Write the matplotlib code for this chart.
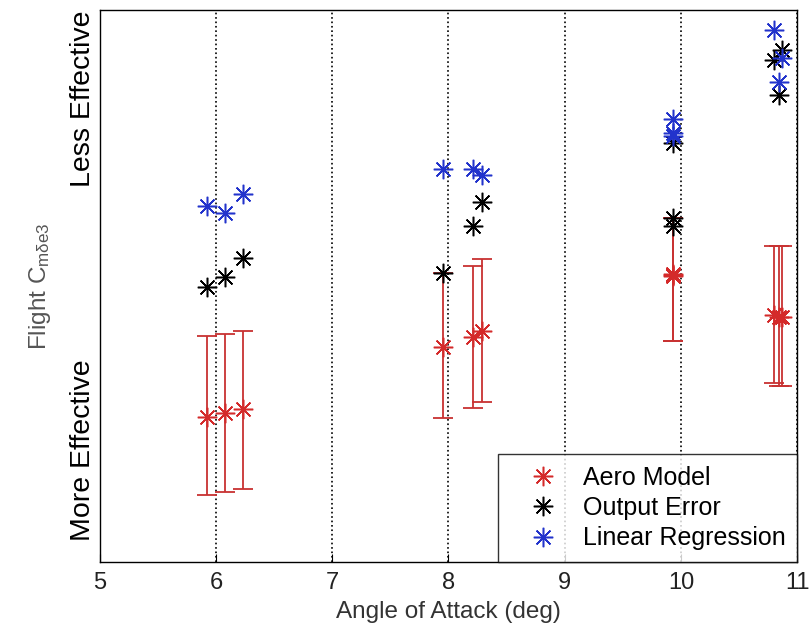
import numpy as np
import matplotlib
matplotlib.use("Agg")
import matplotlib.pyplot as plt

plt.rcParams['font.family'] = ['Liberation Sans', 'DejaVu Sans']
plt.rcParams['mathtext.fontset'] = 'custom'
plt.rcParams['mathtext.rm'] = 'Liberation Sans'
plt.rcParams['mathtext.it'] = 'Liberation Sans'

# angle of attack for each run (3 runs per nominal AoA)
aoa = [5.92, 6.08, 6.23, 7.95, 8.21, 8.29, 9.93, 9.93, 9.93, 10.80, 10.87, 10.84]

# flight Cm_de3 (arbitrary units, axis has no numeric labels)
aero_model = [2.63, 2.70, 2.77, 3.89, 4.08, 4.18, 5.20, 5.19, 5.21, 4.47, 4.44, 4.44]
aero_upper = [4.09, 4.13, 4.18, 5.24, 5.36, 5.49, 6.23, 6.23, 6.23, 5.72, 5.72, 5.72]
aero_lower = [1.21, 1.27, 1.32, 2.61, 2.79, 2.90, 4.00, 4.00, 4.00, 3.24, 3.19, 3.19]
output_error = [4.98, 5.16, 5.51, 5.24, 6.09, 6.52, 7.59, 6.23, 6.09, 9.09, 9.28, 8.46]
linear_regression = [6.45, 6.32, 6.67, 7.12, 7.12, 7.01, 8.03, 7.77, 7.72, 9.64, 9.13, 8.70]

xticks = [5, 6, 7, 8, 9, 10, 11]
ytick_pos = [2.03, 8.40]
ytick_labels = ['More Effective', 'Less Effective']

red = '#d42a2a'
blue = '#2233cc'
star = (8, 2, 0)

fig = plt.figure(figsize=(8.11, 6.29), dpi=100)
ax = fig.add_axes([0.123, 0.1065, 0.860, 0.8775])

am = np.array(aero_model)
yerr = [am - np.array(aero_lower), np.array(aero_upper) - am]
ax.errorbar(aoa, aero_model, yerr=yerr, fmt='none', ecolor='#c83232',
            elinewidth=1.3, capsize=7, capthick=1.3, zorder=2)
ax.plot(aoa, aero_model, linestyle='none', marker=star, markersize=14,
        markeredgewidth=1.1, color=red, label='Aero Model', zorder=3)
ax.plot(aoa, output_error, linestyle='none', marker=star, markersize=14,
        markeredgewidth=1.1, color='black', label='Output Error', zorder=3)
ax.plot(aoa, linear_regression, linestyle='none', marker=star, markersize=14,
        markeredgewidth=1.1, color=blue, label='Linear Regression', zorder=3)

ax.set_xlim(5, 11)
ax.set_ylim(0, 10)
ax.set_xticks(xticks)
ax.tick_params(axis='x', direction='in', length=6, labelsize=17, pad=7,
               labelcolor='#222222')
ax.set_yticks(ytick_pos)
ax.set_yticklabels(ytick_labels, rotation=90, va='center', fontsize=20.5)
ax.tick_params(axis='y', length=0, pad=3)
ax.xaxis.grid(True, linestyle=':', color='black', linewidth=1.2)

for s in ax.spines.values():
    s.set_linewidth(1.0)

ax.set_xlabel('Angle of Attack (deg)', fontsize=17.5, color='#333333', labelpad=5)
ax.set_ylabel(r'Flight C$_{\mathrm{m}\delta\mathrm{e3}}$', fontsize=17.5,
              color='#555555', labelpad=12)

leg = ax.legend(loc='lower right', bbox_to_anchor=(1, 0), borderaxespad=0,
                fontsize=18, frameon=True, fancybox=False, edgecolor='black',
                handlelength=2.6, handletextpad=0.3, borderpad=0.47,
                labelspacing=0.25)
leg.get_frame().set_linewidth(1.0)

fig.savefig('out.png', dpi=100)
